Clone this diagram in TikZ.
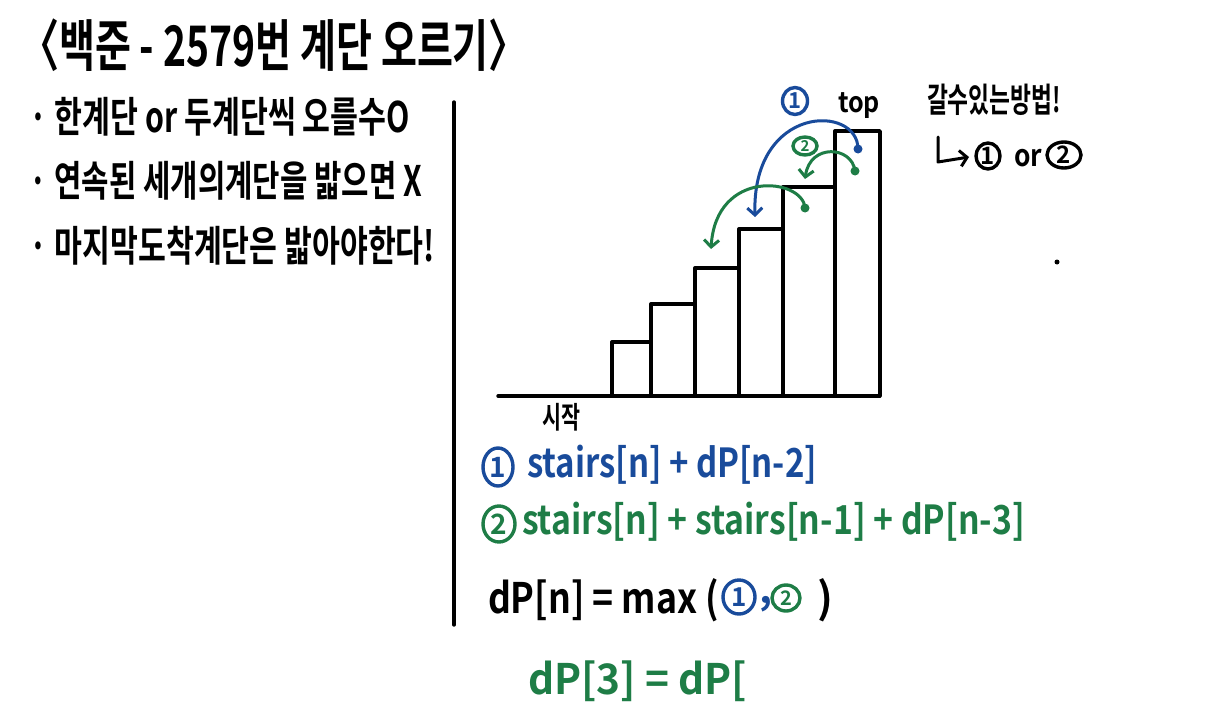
\documentclass[tikz,border=0pt]{standalone}
\usepackage{fontspec}
\setmainfont{Noto Sans CJK KR}[BoldFont=* Bold]
\usetikzlibrary{arrows.meta}
\definecolor{pblue}{RGB}{25,75,155}
\definecolor{pgreen}{RGB}{30,125,70}
\newcommand\hw[3]{\resizebox{#1}{\height}{\fontsize{#2}{#2}\selectfont\bfseries #3}}
\begin{document}
\begin{tikzpicture}[x=1pt,y=1pt,
  txt/.style={anchor=west,inner sep=0pt,outer sep=0pt},
  ink/.style={line width=3.4pt,line cap=round,line join=round},
  jump/.style={line width=3pt,line cap=round,-{Straight Barb[length=7pt,width=15pt]}},
  dotm/.style={circle,fill,inner sep=0pt,minimum size=9pt},
  num/.style={inner sep=0pt,font=\fontsize{20}{20}\selectfont\bfseries},
  ring/.style={line width=3.4pt}
]
\useasboundingbox[fill=white] (0,0) rectangle (1229,-712);

% title
\node[txt] (title) at (20,-45) {\hw{508pt}{56}{〈백준 - 2579번 계단 오르기〉}};

% rules
\node[txt] (r1) at (30,-117) {\hw{380pt}{42}{· 한계단 or 두계단씩 오를수O}};
\node[txt] (r2) at (30,-181) {\hw{392pt}{42}{· 연속된 세개의계단을 밟으면 X}};
\node[txt] (r3) at (30,-246) {\hw{405pt}{42}{· 마지막도착계단은 밟아야한다!}};

% divider
\draw[ink] (454,-102) -- (454,-625);

% stairs
\draw[ink] (498,-396) -- (880,-396);
\draw[ink] (612,-396) rectangle (651,-342);
\draw[ink] (651,-396) rectangle (695,-304);
\draw[ink] (695,-396) rectangle (739,-268);
\draw[ink] (739,-396) rectangle (783,-229);
\draw[ink] (783,-396) rectangle (835,-187);
\draw[ink] (835,-396) rectangle (880,-131);
\node[txt] (start) at (542,-417) {\hw{38pt}{30}{시작}};
\node[txt] (top) at (838,-106) {\hw{42pt}{28}{top}};

% jumps
\node[num,pblue,font=\fontsize{22}{22}\selectfont\bfseries] (c1) at (795,-101) {1};
\draw[ring,pblue] (c1.center) ellipse [x radius=12.5, y radius=13.5];
\node[num,pgreen,font=\fontsize{15}{15}\selectfont\bfseries] (c2) at (805,-146) {2};
\draw[ring,pgreen] (c2.center) ellipse [x radius=12, y radius=9];
\node[dotm,pblue] (b1) at (858,-149) {};
\coordinate (b2) at (755,-217);
\draw[jump,pblue] (b1.center) .. controls (858,-104) and (752,-104) .. (b2);
\node[dotm,pgreen] (g1) at (855,-171) {};
\coordinate (g2) at (805,-179);
\draw[jump,pgreen] (g1.center) .. controls (852,-146) and (810,-143) .. (g2);
\node[dotm,pgreen] (g3) at (805,-208) {};
\coordinate (g4) at (711,-249);
\draw[jump,pgreen] (g3.center) .. controls (803,-178) and (716,-168) .. (g4);

% ways
\node[txt] (ways) at (927,-100) {\hw{134pt}{34}{갈수있는방법!}};
\coordinate (wa) at (938,-137);
\coordinate (wb) at (938,-162);
\coordinate (wc) at (969,-157);
\draw[line width=3pt,line cap=round,line join=round,-{Straight Barb[length=7pt,width=16pt]}] (wa) -- (wb) -- (wc);
\node[num,font=\fontsize{24}{24}\selectfont\bfseries] (w1) at (988,-156) {1};
\draw[ring] (w1.center) ellipse [x radius=12, y radius=13];
\node[txt] (wor) at (1014,-158) {\hw{28pt}{30}{or}};
\node[num,font=\fontsize{24}{24}\selectfont\bfseries] (w2) at (1064,-155) {2};
\draw[ring] (w2.center) ellipse [x radius=17, y radius=13];

% formulas
\node[num,pblue,font=\fontsize{28}{28}\selectfont\bfseries] (f1c) at (498,-467) {1};
\draw[ring,pblue] (f1c.center) ellipse [x radius=15, y radius=19];
\node[txt,pblue] (f1) at (527,-465) {\hw{290pt}{40}{stairs[n] + dP[n-2]}};
\node[num,pgreen,font=\fontsize{28}{28}\selectfont\bfseries] (f2c) at (499,-524) {2};
\draw[ring,pgreen] (f2c.center) ellipse [x radius=16, y radius=18];
\node[txt,pgreen] (f2) at (522,-522) {\hw{503pt}{40}{stairs[n] + stairs[n-1] + dP[n-3]}};
\node[txt] (f3) at (488,-600) {\hw{231pt}{42}{dP[n] = max (}};
\node[num,pblue,font=\fontsize{26}{26}\selectfont\bfseries] (f3a) at (739,-597) {1};
\draw[ring,pblue] (f3a.center) ellipse [x radius=16, y radius=17];
\node[txt,pblue] (f3b) at (759,-604) {\fontsize{40}{40}\selectfont\bfseries ,};
\node[num,pgreen,font=\fontsize{20}{20}\selectfont\bfseries] (f3c) at (786,-598) {2};
\draw[ring,pgreen] (f3c.center) ellipse [x radius=14, y radius=13];
\node[txt] (f3d) at (817,-600) {\fontsize{42}{42}\selectfont\bfseries )};
\node[txt,pgreen] (f4) at (528,-681) {\hw{219pt}{42}{dP[3] = dP[}};

% stray dot
\node[circle,fill,inner sep=0pt,minimum size=5pt] (sd) at (1057,-262) {};
\end{tikzpicture}
\end{document}
